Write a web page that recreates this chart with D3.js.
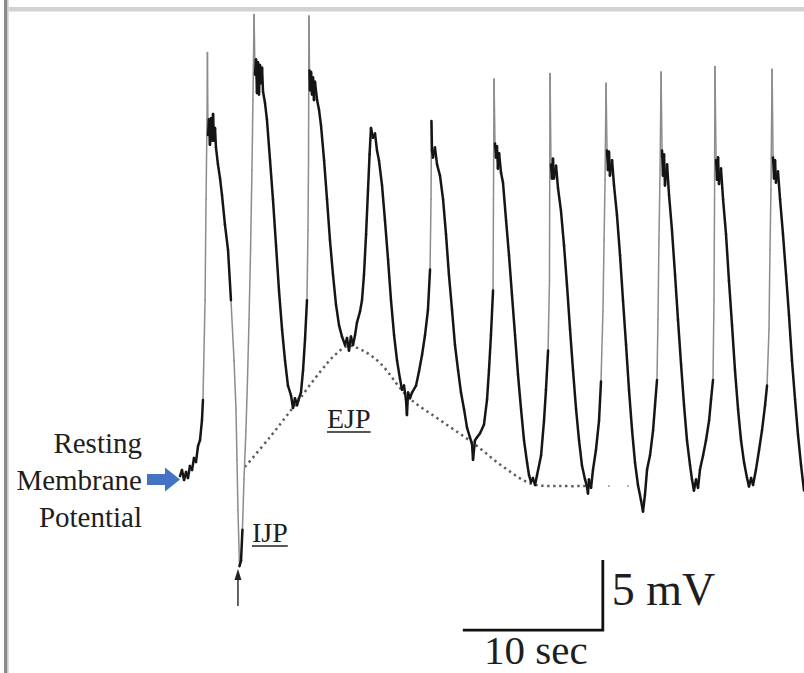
<!DOCTYPE html>
<meta charset="utf-8">
<html lang="en">
<head>
<title>Membrane potential trace</title>
<script src="https://d3js.org/d3.v7.min.js"></script>
<style>
  body { margin: 0; background: #fff; }
  text { font-family: "Liberation Serif", "Times New Roman", serif; fill: #1e1e1e; }
</style>
</head>
<body>
<div id="chart"></div>
<script>
// recorded trace: [time (s), membrane potential (mV, relative to rest)]
var trace = [
  [0,0.14],[0.14,0.57],[0.29,-0.14],[0.43,0.43],[0.57,0],[0.71,0.86],[0.86,0.57],[1,1.43],[1.14,1.14],
  [1.29,2.29],[1.43,2.71],[1.57,4.14],[1.64,5.57],[1.79,12.7],[1.86,19.9],[1.93,25.6],[1.96,30.4],
  [2,24.5],[2.07,25.6],[2.14,23.8],[2.21,25.7],[2.29,24.1],[2.36,26],[2.43,24.1],[2.5,25],[2.57,23.6],
  [2.71,22.4],[2.86,21.4],[3,20.2],[3.21,18.1],[3.43,16.3],[3.64,12.7],[3.86,8.4],[4,4.9],[4.07,1.3],
  [4.14,-2.3],[4.25,-6.3],[4.36,-5.9],[4.46,-3.7],[4.57,-0.1],[4.71,3.4],[4.82,7],[4.93,11.3],[5.04,16.3],
  [5.14,22],[5.21,27],[5.29,33.1],
  [5.36,28.8],[5.43,29.9],[5.5,27.5],[5.57,29.7],[5.64,27.4],[5.71,29.5],[5.79,28.2],[5.86,29.3],[5.93,27.6],
  [6.07,26.8],[6.21,25.6],[6.43,22.7],[6.64,19.9],[6.86,16.6],[7.07,13.4],[7.29,10.6],[7.5,8.4],[7.71,6.6],
  [7.93,5.9],[8.07,5],[8.21,5.7],[8.36,5.2],
  [8.5,5.7],[8.64,6.1],[8.79,7.7],[8.93,9.9],[9.07,12.7],[9.14,17.7],[9.18,22.7],[9.21,33],
  [9.25,29.1],[9.29,27.7],[9.36,29],[9.43,27.4],[9.5,28.6],[9.57,27],[9.64,28.3],[9.79,27],[9.93,26.3],
  [10.07,25.2],[10.29,22.7],[10.5,19.9],[10.71,17],[10.93,14.5],[11.14,12.4],[11.36,10.9],[11.57,10.1],
  [11.79,9.5],[11.93,10],[12.07,9.1],[12.21,10.1],[12.36,9.5],
  [12.5,10.2],[12.64,11.1],[12.86,11.9],[13,12.7],[13.14,14.5],[13.29,17.4],[13.43,20.6],[13.54,23.1],
  [13.64,25],[13.79,24.3],[13.93,24.6],[14.07,23.4],[14.21,22.7],[14.43,20.9],[14.64,18.4],[14.86,15.6],
  [15.07,12.7],[15.29,10.2],[15.5,8.4],[15.71,7.1],[15.86,6.3],[16,6.6],[16.14,5.6],[16.21,4.5],[16.29,6.1],
  [16.43,5.7],
  [16.57,6.1],[16.86,6.6],[17.07,7.6],[17.29,8.8],[17.5,10.2],[17.71,12],[17.86,14.9],[17.93,19.9],[17.96,25.5],
  [18,23.4],[18.07,22.9],[18.21,23.6],[18.36,22.4],[18.57,21.6],[18.79,19.9],[19,17.4],[19.21,14.5],[19.43,12],
  [19.64,9.5],[19.86,7.7],[20.07,6.1],[20.29,4.9],[20.5,3.6],[20.71,2.9],[20.86,2.4],[20.93,1.3],[21.07,2.7],
  [21.21,2.9],
  [21.43,3.2],[21.71,3.8],[21.93,5.6],[22.07,7.7],[22.21,10.2],[22.36,13.4],[22.39,19.9],[22.43,28.5],
  [22.5,23.9],[22.57,22.9],[22.64,23.7],[22.71,22.1],[22.79,23.2],[22.93,21.8],[23.07,21.1],[23.29,18.4],
  [23.5,15.9],[23.71,13.1],[23.93,10.2],[24.14,7.4],[24.36,4.9],[24.57,2.7],[24.79,1.1],[24.93,0.2],
  [25.07,-0.3],[25.21,0],[25.36,-0.5],
  [25.5,0.2],[25.79,1.6],[26,4.1],[26.14,6.3],[26.29,9.1],[26.39,14.1],[26.43,28.9],
  [26.5,22.4],[26.57,21.4],[26.64,22.8],[26.71,21.4],[26.86,22.3],[27,20.7],[27.21,19.1],[27.43,16.6],
  [27.64,13.8],[27.86,10.6],[28.07,7.7],[28.29,4.9],[28.5,2.7],[28.71,0.9],[28.93,-0.1],[29.07,-0.6],
  [29.14,-1.1],[29.21,-0.1],[29.36,-0.7],[29.5,0.6],[29.71,2],[29.93,4.1],[30.07,6.9],[30.21,11.9],
  [30.29,17],[30.36,21.3],[30.43,28.2],
  [30.5,23.4],[30.57,22],[30.64,23.3],[30.71,21.6],[30.86,22.7],[31,20.9],[31.21,18.8],[31.43,15.9],
  [31.64,12.7],[31.86,9.5],[32.07,6.3],[32.29,3.4],[32.5,1.1],[32.71,-0.5],[32.93,-1.6],[33.07,-2.4],
  [33.21,-1.2],
  [33.36,0.6],[33.57,1.6],[33.79,3.4],[33.93,5.2],[34.07,7],[34.14,11.3],[34.21,17],[34.29,22],[34.36,29],
  [34.43,23.4],[34.5,21.6],[34.57,23.1],[34.64,20.9],[34.79,22.4],[34.93,20.2],[35.14,17.7],[35.36,14.5],
  [35.57,11.3],[35.79,8.1],[36,5.2],[36.21,2.7],[36.43,0.9],[36.57,-0.1],[36.71,-0.9],[36.86,-0.1],
  [37,-0.7],[37.14,0.6],
  [37.36,1.6],[37.57,2.7],[37.79,4.1],[37.93,5.6],[38.07,7],[38.14,12.7],[38.18,19.9],[38.21,29.4],
  [38.29,22.7],[38.36,21.3],[38.43,22.9],[38.5,21],[38.64,22.1],[38.79,19.9],[39,17.4],[39.21,14.1],
  [39.43,10.9],[39.64,7.7],[39.86,4.9],[40.07,2.7],[40.29,1.1],[40.5,0],[40.64,-0.6],[40.79,0],
  [40.93,-0.5],[41.14,0.6],[41.36,2],
  [41.57,3.4],[41.79,5.2],[41.93,6.6],[42.07,10.6],[42.14,16.3],[42.21,20.6],[42.29,29.2],
  [42.36,22.9],[42.43,21.4],[42.5,22.7],[42.57,21.1],[42.71,21.9],[42.86,19.9],[43.07,17.4],[43.29,14.5],
  [43.5,11.6],[43.71,8.4],[43.93,5.6],[44.14,3.1],[44.36,0.9],[44.57,-0.9]
];

// dotted EJP envelope drawn through the troughs
var ejpTime = [4.64, 6.43, 8.21, 10, 11.07, 12, 13, 14.29, 16.29, 18.57, 20.93, 23.21, 25.14, 27.14, 29.29];
var ejpMv   = [0.79, 2.93, 5.21, 7.57, 8.79, 9.43, 9.14, 8.21, 5.79, 4.14, 2.5, 0.71, -0.43, -0.57, -0.57];
var ejpLooseDots = [30.64, 32];

var restLabel = ["Resting", "Membrane", "Potential"];
var scaleBar = { t0: 20.2, v0: -10.86, dt: 10, dv: 5 };
var scaleLabels = ["5 mV", "10 sec"];

var W = 804, H = 673;

var svg = d3.select("#chart").append("svg")
    .attr("width", W)
    .attr("height", H);

// frame left over from the screenshot
svg.append("rect").attr("x", 4).attr("y", 0).attr("width", 3.5).attr("height", H).attr("fill", "#8a8a8a");
svg.append("rect").attr("x", 7.5).attr("y", 0).attr("width", 1.2).attr("height", H).attr("fill", "#cfcfcf");
svg.append("rect").attr("x", 8.7).attr("y", 7).attr("width", W).attr("height", 4.5).attr("fill", "#d2d2d2");

// 14 px per second, 14 px per mV
var x = d3.scaleLinear().domain([0, 44.57]).range([180, 804]);
var y = d3.scaleLinear().domain([0, 10]).range([478, 338]);

// dotted EJP line
var ejp = ejpTime.map(function(t, i) { return [t, ejpMv[i]]; });
svg.append("path")
    .datum(ejp)
    .attr("fill", "none")
    .attr("stroke", "#5e5e5e")
    .attr("stroke-width", 2.5)
    .attr("stroke-dasharray", "2.4,3.6")
    .attr("d", d3.line().x(function(d) { return x(d[0]); }).y(function(d) { return y(d[1]); }).curve(d3.curveCatmullRom));
svg.selectAll(".loose").data(ejpLooseDots).enter().append("circle")
    .attr("cx", function(d) { return x(d); })
    .attr("cy", y(-0.57))
    .attr("r", 1)
    .attr("fill", "#999");

// trace: fast edges come out faint, slow parts black
var segs = [];
for (var i = 1; i < trace.length; i++) {
  var a = trace[i - 1], b = trace[i];
  var dx = Math.abs(x(b[0]) - x(a[0])), dy = Math.abs(y(b[1]) - y(a[1]));
  segs.push({ a: a, b: b, fast: dy > 45 && dy / Math.max(dx, 0.01) > 18 });
}
segs.sort(function(p, q) { return (q.fast ? 1 : 0) - (p.fast ? 1 : 0); });

svg.append("g").selectAll("line")
    .data(segs)
    .enter()
    .append("line")
    .attr("x1", function(d) { return x(d.a[0]); })
    .attr("y1", function(d) { return y(d.a[1]); })
    .attr("x2", function(d) { return x(d.b[0]); })
    .attr("y2", function(d) { return y(d.b[1]); })
    .attr("stroke", function(d) { return d.fast ? "#8c8c8c" : "#151515"; })
    .attr("stroke-width", function(d) { return d.fast ? 1.5 : 2.5; })
    .attr("stroke-linecap", "round");

// resting membrane potential label and blue arrow
svg.selectAll(".rest").data(restLabel).enter().append("text")
    .attr("x", 142)
    .attr("y", function(d, i) { return 453 + i * 37; })
    .attr("text-anchor", "end")
    .style("font-size", "29px")
    .text(function(d) { return d; });

var tipX = x(0), tipY = y(-0.1);
svg.append("path")
    .attr("fill", "#4472c4")
    .attr("d", "M" + (tipX - 33) + "," + (tipY - 5.5) +
               "H" + (tipX - 15) + "V" + (tipY - 12) +
               "L" + tipX + "," + tipY +
               "L" + (tipX - 15) + "," + (tipY + 12) +
               "V" + (tipY + 5.5) + "H" + (tipX - 33) + "Z");

// stimulus arrow below the IJP
var stimX = x(4.14);
svg.append("line").attr("x1", stimX).attr("x2", stimX).attr("y1", 606).attr("y2", 578)
    .attr("stroke", "#222").attr("stroke-width", 1.4);
svg.append("path").attr("fill", "#222")
    .attr("d", "M" + stimX + ",569L" + (stimX - 3.5) + ",580L" + (stimX + 3.5) + ",580Z");

// underlined IJP / EJP labels
function underlined(label, lx, ly) {
  var t = svg.append("text").attr("x", lx).attr("y", ly).style("font-size", "28px").text(label);
  var w = t.node().getComputedTextLength();
  svg.append("line").attr("x1", lx).attr("x2", lx + w).attr("y1", ly + 4).attr("y2", ly + 4)
      .attr("stroke", "#1e1e1e").attr("stroke-width", 1.5);
}
underlined("IJP", 252, 542);
underlined("EJP", 327, 428);

// scale bar
var sb = svg.append("g").attr("stroke", "#111").attr("stroke-width", 2.8).attr("fill", "none");
sb.append("path")
    .attr("d", "M" + x(scaleBar.t0) + "," + y(scaleBar.v0) +
               "H" + x(scaleBar.t0 + scaleBar.dt) +
               "V" + y(scaleBar.v0 + scaleBar.dv));
svg.append("text")
    .attr("x", x(scaleBar.t0 + scaleBar.dt) + 9)
    .attr("y", 605)
    .style("font-size", "46px")
    .text(scaleLabels[0]);
svg.append("text")
    .attr("x", x(scaleBar.t0 + scaleBar.dt / 2) + 3)
    .attr("y", 664)
    .attr("text-anchor", "middle")
    .style("font-size", "41px")
    .text(scaleLabels[1]);
</script>
</body>
</html>
